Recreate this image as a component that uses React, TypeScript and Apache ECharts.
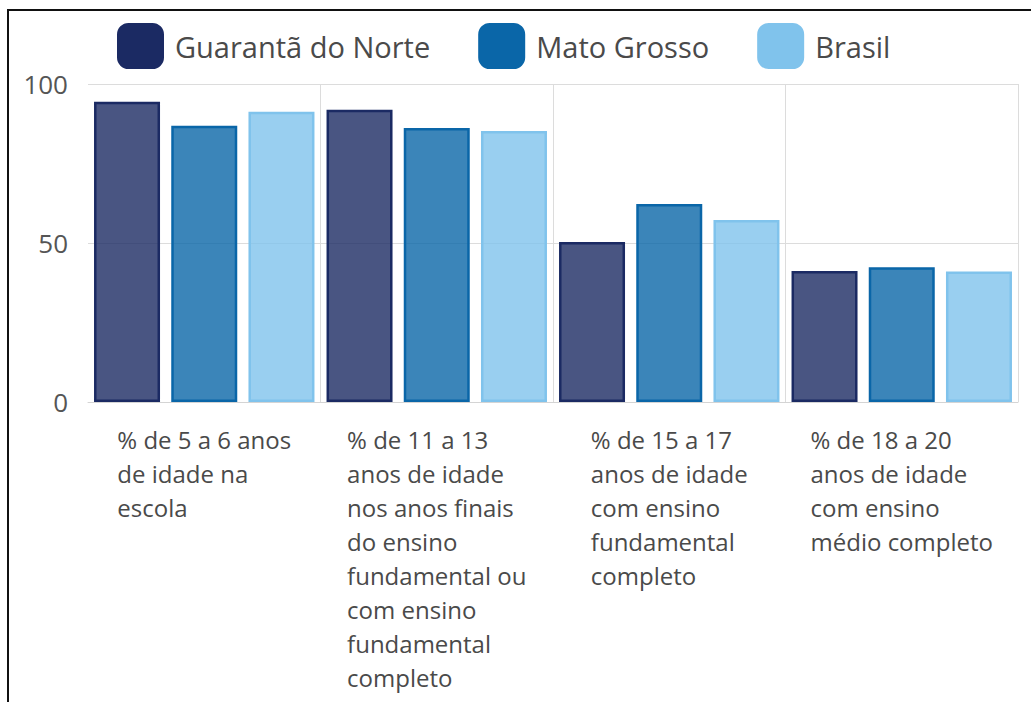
import React, { useEffect, useRef } from "react";
import * as echarts from "echarts";

const categories = [
  "% de 5 a 6 anos\nde idade na\nescola",
  "% de 11 a 13\nanos de idade\nnos anos finais\ndo ensino\nfundamental ou\ncom ensino\nfundamental\ncompleto",
  "% de 15 a 17\nanos de idade\ncom ensino\nfundamental\ncompleto",
  "% de 18 a 20\nanos de idade\ncom ensino\nmédio completo",
];
const seriesNames = ["Guarantã do Norte", "Mato Grosso", "Brasil"];
const guarantaValues = [94.4, 91.9, 50.3, 41.2];
const matoGrossoValues = [86.9, 86.2, 62.3, 42.4];
const brasilValues = [91.3, 85.2, 57.2, 41.0];
const yTicks = [0, 50, 100];

const colors = ["#1b2a63", "#0a66a8", "#80c3ec"];
const fills = ["rgba(27,42,99,0.8)", "rgba(10,102,168,0.8)", "rgba(128,195,236,0.8)"];
const FONT = "'Open Sans', 'Noto Sans', sans-serif";

export default function App() {
  const ref = useRef<HTMLDivElement>(null);
  useEffect(() => {
    if (!ref.current) return;
    const chart = echarts.init(ref.current, null, { renderer: "svg" });
    const values = [guarantaValues, matoGrossoValues, brasilValues];
    chart.setOption({
      animation: false,
      legend: {
        left: 112,
        top: 18,
        itemWidth: 47,
        itemHeight: 46,
        itemGap: 48,
        icon: "roundRect",
        textStyle: { fontSize: 29, color: "#4a4a4a", fontFamily: FONT, padding: [0, 0, 0, 6] },
        data: seriesNames.map((n, i) => ({
          name: n,
          itemStyle: { color: colors[i], borderWidth: 0, opacity: 1 },
        })),
      },
      grid: {
        left: 88,
        top: 84,
        right: 13,
        bottom: 300,
        containLabel: false,
        outerBoundsMode: "none",
      },
      xAxis: {
        type: "category",
        data: categories,
        axisTick: { show: false },
        axisLine: { lineStyle: { color: "#d4d4d4", width: 1 } },
        splitLine: { show: true, showMinLine: false, lineStyle: { color: "#dcdcdc", width: 1 } },
        axisLabel: {
          interval: 0,
          margin: 20,
          align: "center",
          formatter: (v: string) => `{a|${v}}`,
          rich: {
            a: { align: "left", fontSize: 24, lineHeight: 34, color: "#4a4a4a", fontFamily: FONT },
          },
        },
      },
      yAxis: {
        type: "value",
        min: yTicks[0],
        max: yTicks[yTicks.length - 1],
        interval: 50,
        axisLine: { show: false },
        axisTick: { show: false },
        splitLine: { lineStyle: { color: "#dcdcdc", width: 1 } },
        axisLabel: { margin: 20, fontSize: 26, color: "#555555", fontFamily: FONT },
      },
      series: seriesNames.map((n, i) => ({
        name: n,
        type: "bar",
        data: values[i],
        barWidth: 66,
        barGap: "17%",
        itemStyle: { color: fills[i], borderColor: colors[i], borderWidth: 2.5 },
      })),
    });
    return () => chart.dispose();
  }, []);
  return (
    <div style={{ position: "fixed", left: 0, top: 0, width: 1031, height: 702, background: "#fff" }}>
      <div ref={ref} style={{ position: "absolute", left: 0, top: 0, width: 1031, height: 702 }} />
      <div
        style={{
          position: "absolute",
          left: 7,
          top: 9,
          width: 1040,
          height: 720,
          borderTop: "2px solid #111",
          borderLeft: "2px solid #111",
          pointerEvents: "none",
        }}
      />
    </div>
  );
}
